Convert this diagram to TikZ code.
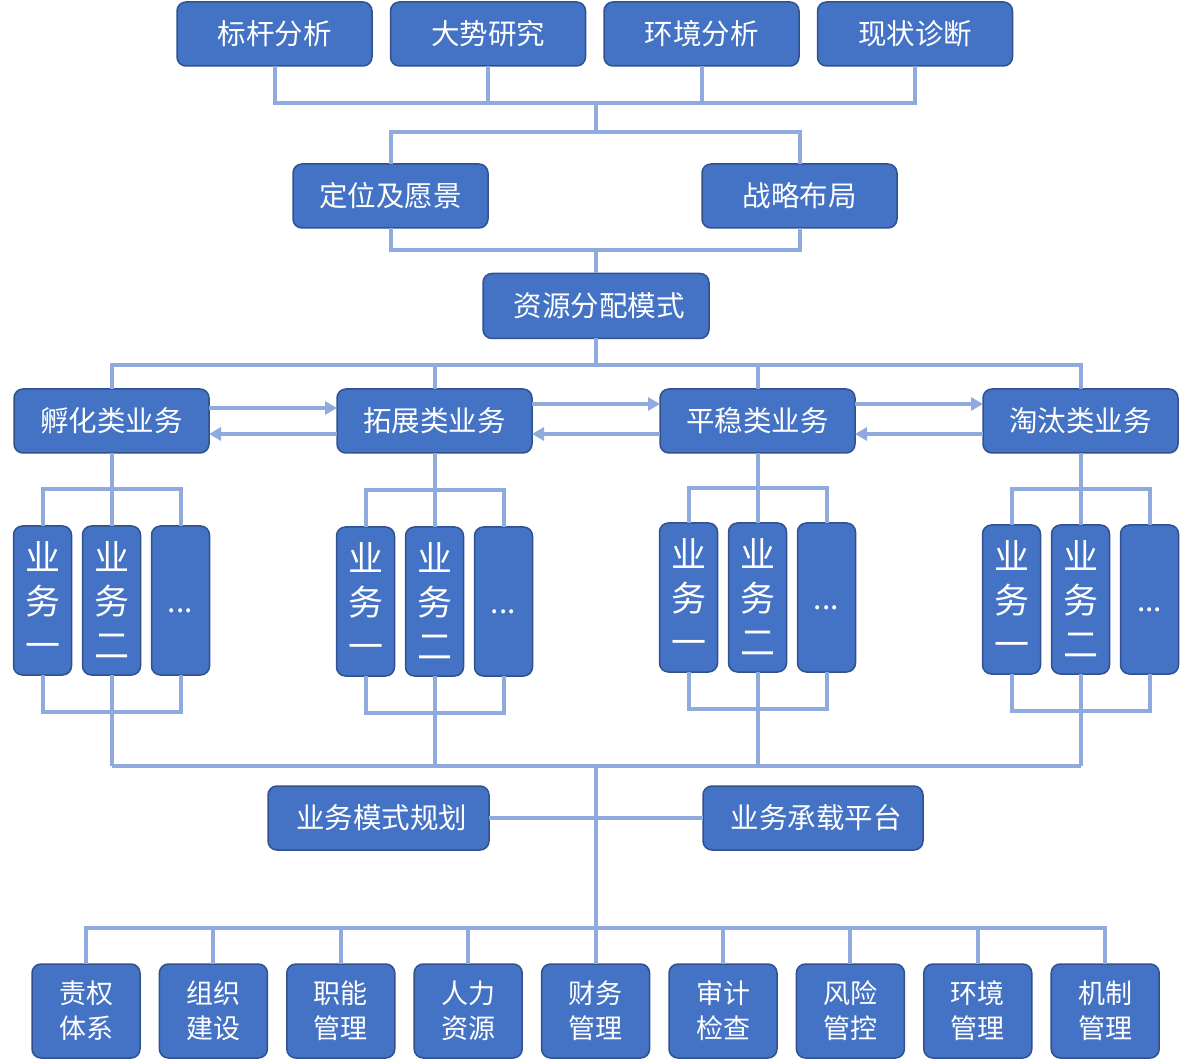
\documentclass[tikz,border=0pt]{standalone}
\usepackage{fontspec}
\newfontfamily\cjk{Noto Sans CJK SC}
\usetikzlibrary{positioning, arrows.meta, calc}

\definecolor{boxblue}{HTML}{4472C4}
\definecolor{boxedge}{HTML}{2F528F}
\definecolor{linkblue}{HTML}{8FAADC}

\begin{document}
\begin{tikzpicture}[x=1pt, y=-1pt,
    box/.style={draw=boxedge, fill=boxblue, line width=1.5pt, rounded corners=9pt, outer sep=0pt, inner sep=0pt, text=white, font=\cjk\fontsize{28.5}{30}\selectfont, minimum width=195pt, minimum height=64pt},
    subbox/.style={box, align=center, minimum width=58pt, minimum height=149pt, font=\cjk\fontsize{35}{44}\selectfont},
    basebox/.style={box, align=center, minimum width=108pt, minimum height=94pt, font=\cjk\fontsize{27}{35}\selectfont},
    link/.style={draw=linkblue, line width=4pt},
    flow/.style={link, -{Triangle[length=12pt,width=13pt]}}]

    \useasboundingbox (0,0) rectangle (1187,1064);

    % analysis row
    \node[box] (bg) at (274.5,34) {标杆分析};
    \node[box, right=18.5pt of bg] (ds) {大势研究};
    \node[box, right=18.5pt of ds] (hj) {环境分析};
    \node[box, right=18.5pt of hj] (xz) {现状诊断};

    % strategy row
    \node[box] (dw) at (390.5,196) {定位及愿景};
    \node[box, right=214pt of dw] (zl) {战略布局};

    \node[box, minimum width=226pt, minimum height=65pt] (zy) at (596,306) {\hspace{6pt}资源分配模式};

    % business types
    \node[box] (fh) at (111.5,421) {孵化类业务};
    \node[box, right=128pt of fh] (tz) {拓展类业务};
    \node[box, right=128pt of tz] (pw) {平稳类业务};
    \node[box, right=128pt of pw] (tt) {淘汰类业务};

    % businesses under each type
    \foreach \p/\d in {fh/73, tz/74, pw/70, tt/72} {
        \node[subbox, below=\d pt of \p] (\p2) {业\\务\\二};
        \node[subbox, left=11pt of \p2] (\p1) {业\\务\\一};
        \node[subbox, right=11pt of \p2] (\p3) {\fontsize{30}{30}\selectfont\vphantom{业}...};
    }

    \node[box, minimum width=221pt] (ms) at (378.5,818) {\hspace{6pt}业务模式规划};
    \node[box, minimum width=220pt] (cz) at (813,818) {\hspace{6pt}业务承载平台};

    % support row
    \node[basebox] (b1) at (86,1011) {责权\\体系};
    \node[basebox, right=19.4pt of b1] (b2) {组织\\建设};
    \node[basebox, right=19.4pt of b2] (b3) {职能\\管理};
    \node[basebox, right=19.4pt of b3] (b4) {人力\\资源};
    \node[basebox, right=19.4pt of b4] (b5) {财务\\管理};
    \node[basebox, right=19.4pt of b5] (b6) {审计\\检查};
    \node[basebox, right=19.4pt of b6] (b7) {风险\\管控};
    \node[basebox, right=19.4pt of b7] (b8) {环境\\管理};
    \node[basebox, right=19.4pt of b8] (b9) {机制\\管理};

    % joints
    \coordinate (j1) at (596,103);
    \coordinate (j2) at (596,132);
    \coordinate (j3) at (596,250);
    \coordinate (j4) at (596,365);
    \coordinate (j5) at (596,766);
    \coordinate (j6) at (596,928);

    % connectors
    \draw[link] (bg.south) |- (j1) -| (xz.south);
    \draw[link] (ds.south) -- (ds.south |- j1);
    \draw[link] (hj.south) -- (hj.south |- j1);
    \draw[link] (j1) -- (j2);
    \draw[link] (dw.north) |- (j2) -| (zl.north);
    \draw[link] (dw.south) |- (j3) -| (zl.south);
    \draw[link] (j3) -- (zy.north);
    \draw[link] (zy.south) -- (j4);
    \draw[link] (fh.north) |- (j4) -| (tt.north);
    \draw[link] (tz.north) -- (tz.north |- j4);
    \draw[link] (pw.north) -- (pw.north |- j4);

    \foreach \p in {fh, tz, pw, tt} {
        \coordinate (\p top) at ($(\p.south)!0.5!(\p2.north)$);
        \draw[link] (\p1.north) |- (\p top) -| (\p3.north);
        \draw[link] (\p.south) -- (\p2.north);
        \draw[link] (\p1.south) -- ++(0,37) -| (\p3.south);
        \draw[link] (\p2.south) -- (\p2.south |- j5);
    }
    \draw[link] (fh2.south |- j5) -- (tt2.south |- j5);

    \draw[link] (j5) -- (j6);
    \draw[link] (ms.east) -- (cz.west);

    \draw[link] (b1.north) |- (j6) -| (b9.north);
    \foreach \i in {2,...,8}
        \draw[link] (b\i.north) -- (b\i.north |- j6);

    % flows between business types
    \draw[flow] ([yshift=13pt]fh.east) -- ([yshift=13pt]tz.west);
    \draw[flow] ([yshift=-13pt]tz.west) -- ([yshift=-13pt]fh.east);
    \draw[flow] ([yshift=17pt]tz.east) -- ([yshift=17pt]pw.west);
    \draw[flow] ([yshift=-13pt]pw.west) -- ([yshift=-13pt]tz.east);
    \draw[flow] ([yshift=17pt]pw.east) -- ([yshift=17pt]tt.west);
    \draw[flow] ([yshift=-13pt]tt.west) -- ([yshift=-13pt]pw.east);
\end{tikzpicture}
\end{document}
